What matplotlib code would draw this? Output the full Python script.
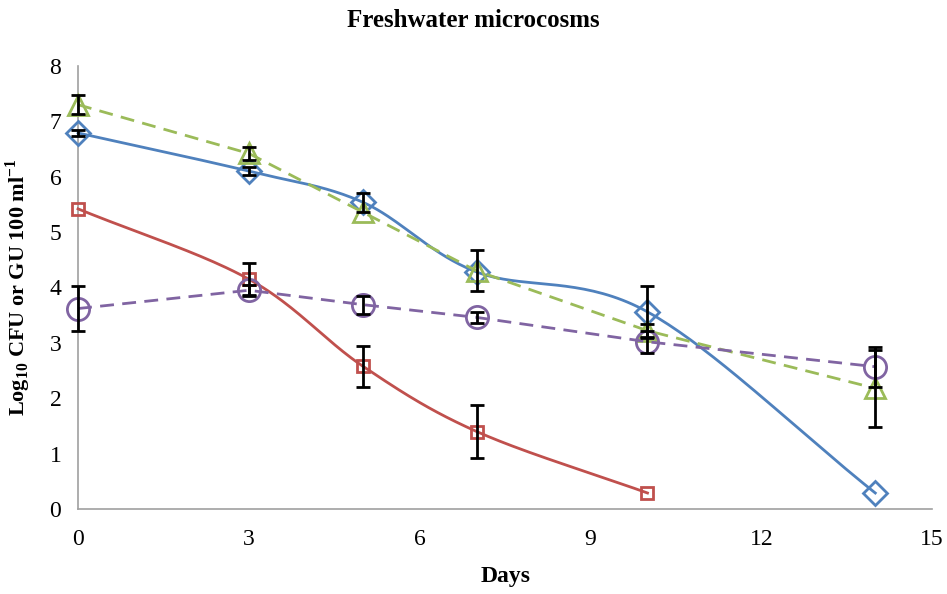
"""Freshwater microcosms: survival curves"""
import numpy as np
import matplotlib
matplotlib.use("Agg")
import matplotlib.pyplot as plt

plt.rcParams["font.family"] = ["Liberation Serif", "DejaVu Serif"]
plt.rcParams["mathtext.fontset"] = "custom"
plt.rcParams["mathtext.rm"] = "Liberation Serif:bold"
plt.rcParams["mathtext.bf"] = "Liberation Serif:bold"

days = [0, 3, 5, 7, 10, 14]
days_red = [0, 3, 5, 7, 10]

blue = [6.79, 6.10, 5.54, 4.28, 3.56, 0.29]
blue_err = [0.05, 0.07, 0.17, 0.0, 0.47, 0.0]
red = [5.42, 4.15, 2.58, 1.40, 0.29]
red_err = [0.0, 0.29, 0.37, 0.48, 0.0]
green = [7.30, 6.42, 5.36, 4.30, 3.22, 2.18]
green_err = [0.17, 0.12, 0.0, 0.37, 0.12, 0.70]
purple = [3.62, 3.95, 3.69, 3.46, 3.02, 2.57]
purple_err = [0.40, 0.10, 0.16, 0.10, 0.20, 0.36]

C_BLUE, C_RED, C_GREEN, C_PURPLE = "#4F81BD", "#C0504D", "#9BBB59", "#8064A2"


def smooth(x, y, n=40):
    # Catmull-Rom like the Excel "smoothed line" option
    x = np.asarray(x, float); y = np.asarray(y, float)
    px = np.concatenate([[2 * x[0] - x[1]], x, [2 * x[-1] - x[-2]]])
    py = np.concatenate([[2 * y[0] - y[1]], y, [2 * y[-1] - y[-2]]])
    xs, ys = [], []
    t = np.linspace(0, 1, n)
    for i in range(1, len(px) - 2):
        p0, p1, p2, p3 = [np.array([px[j], py[j]]) for j in range(i - 1, i + 3)]
        b1 = p1 + (p2 - p0) / 6
        b2 = p2 - (p3 - p1) / 6
        pts = ((1 - t) ** 3)[:, None] * p1 + (3 * (1 - t) ** 2 * t)[:, None] * b1 \
            + (3 * (1 - t) * t ** 2)[:, None] * b2 + (t ** 3)[:, None] * p2
        xs.extend(pts[:, 0]); ys.extend(pts[:, 1])
    return xs, ys


fig = plt.figure(figsize=(9.47, 5.94), dpi=100)
ax = fig.add_axes([0.0824, 0.143, 0.902, 0.746])

# error bars (skip points without one)
for xv, yv, ev in [(days, blue, blue_err), (days_red, red, red_err),
                   (days, green, green_err), (days, purple, purple_err)]:
    keep = [i for i, e in enumerate(ev) if e > 0]
    ax.errorbar([xv[i] for i in keep], [yv[i] for i in keep], yerr=[ev[i] for i in keep],
                fmt="none", ecolor="black", elinewidth=2, capsize=5, capthick=2,
                zorder=4, clip_on=False)

bx, by = smooth(days, blue)
ax.plot(bx, by, color=C_BLUE, lw=2, zorder=3, clip_on=False)
ax.plot(days, blue, ls="none", marker="D", ms=12, mfc="none", mec=C_BLUE, mew=2,
        zorder=3, clip_on=False)

rx, ry = smooth(days_red, red)
ax.plot(rx, ry, color=C_RED, lw=2, zorder=3, clip_on=False)
ax.plot(days_red, red, ls="none", marker="s", ms=9, mfc="none", mec=C_RED, mew=2,
        zorder=3, clip_on=False)

ax.plot(days, green, color=C_GREEN, lw=2, ls=(0, (5, 3)), marker="^", ms=15,
        mfc="none", mec=C_GREEN, mew=2, zorder=3, clip_on=False)
ax.plot(days, purple, color=C_PURPLE, lw=2, ls=(0, (5, 3)), marker="o", ms=16,
        mfc="none", mec=C_PURPLE, mew=2, zorder=3, clip_on=False)

ax.set_xlim(0, 15)
ax.set_ylim(0, 8)
ax.set_xticks(range(0, 16, 3))
ax.set_yticks(range(0, 9))
ax.tick_params(length=0, labelsize=17)
ax.tick_params(axis="x", pad=14)
ax.tick_params(axis="y", pad=12)
for s in ["top", "right"]:
    ax.spines[s].set_visible(False)
for s in ["left", "bottom"]:
    ax.spines[s].set_color("#A0A0A0")
    ax.spines[s].set_linewidth(1.2)

ax.set_xlabel("Days", fontsize=17, fontweight="bold", labelpad=12)
ax.set_ylabel(r"Log$_{10}$ CFU or GU 100 ml$^{-1}$", fontsize=16, fontweight="bold", labelpad=12)
fig.suptitle("Freshwater microcosms", fontsize=18, fontweight="bold", y=0.985)

fig.savefig("out.png", dpi=100)
